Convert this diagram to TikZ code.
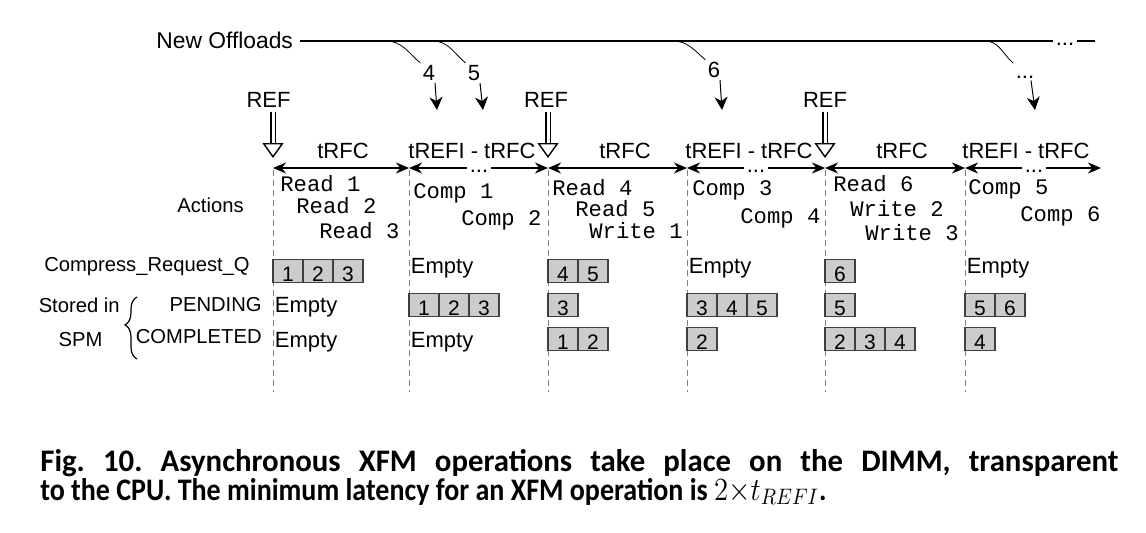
\documentclass[tikz,border=0pt]{standalone}
\usepackage{fontspec}
\setmainfont{Liberation Sans}
\setmonofont{Liberation Mono}
\newfontfamily\capfont{Carlito}
\usetikzlibrary{arrows.meta,decorations.pathreplacing}

\begin{document}
\begin{tikzpicture}[x=0.5pt, y=-0.5pt,
    lbl/.style={font=\fontsize{11}{12}\selectfont, inner sep=0pt},
    side/.style={font=\fontsize{10.1}{12}\selectfont, inner sep=0pt},
    act/.style={font=\fontsize{11.1}{12}\ttfamily, anchor=base west, inner sep=0pt},
    cell/.style={draw=black!75, fill=black!20, line width=0.6pt, minimum width=15pt, minimum height=11.75pt,
      inner sep=0pt, text height=10pt, text depth=0pt, font=\fontsize{10.5}{12}\selectfont},
    empt/.style={font=\fontsize{11}{12}\selectfont, anchor=west, inner sep=0pt},
    tl/.style={line width=1pt, {Stealth[length=6.5pt,width=5.5pt]}-{Stealth[length=6.5pt,width=5.5pt]}},
    dotsgap/.style={font=\fontsize{11}{12}\selectfont, fill=white, anchor=base, inner xsep=1.5pt, inner ysep=0.8pt,
      text height=0.35em, text depth=0pt},
    refarr/.style={line width=0.7pt, double, double distance=1.5pt, -{Triangle[open, length=7.5pt, width=10.5pt]}},
    offarr/.style={line width=0.5pt, -{Stealth[length=6.5pt, width=6.5pt, inset=2pt]}},
    guide/.style={draw=gray, line width=0.4pt, dash pattern=on 3pt off 2pt},
    capline/.style={anchor=base west, inner sep=0pt, font=\capfont\bfseries\fontsize{14}{16}\selectfont\frenchspacing},
  ]
  \useasboundingbox (0,0) rectangle (1146,532);

  % New offloads line and its branches
  \node[lbl, font=\fontsize{11.4}{12}\selectfont, anchor=west] (newoff) at (156,40) {New Offloads};
  \coordinate (lineend) at (1095,41);
  \draw[line width=0.6pt, shorten <=3.5pt] (newoff.east |- lineend) -- (lineend);
  \node[dotsgap] (linedots) at (1065,45) {...};

  \foreach \bx/\lx/\ly/\tx/\t in {386/429/73/437/4, 433/474/73/483/5, 673/714/70/722/6} {
    \coordinate (br\t) at (\bx,41);
    \node[lbl, inner sep=1pt] (off\t) at (\lx,\ly) {\t};
    \coordinate (tip\t) at (\tx,110);
    \draw[line width=0.4pt] (br\t) to[out=0, in=140] (off\t.north west);
    \draw[offarr] ([xshift=3pt]off\t.south) -- (tip\t);
  }
  \coordinate (brd) at (985,41);
  \node[lbl, inner sep=1pt, anchor=base] (offd) at (1025,78) {...};
  \coordinate (tipd) at (1035,110);
  \draw[line width=0.4pt] (brd) to[out=0, in=140] ([yshift=5pt]offd.north west);
  \draw[offarr] ([xshift=3pt]offd.south) -- (tipd);

  % Timeline
  \foreach \a/\b [count=\i] in {273/409, 409/548, 548/687, 687/825, 825/965, 965/1101} {
    \coordinate (s\i) at (\a,168);
    \coordinate (e\i) at (\b,168);
    \draw[tl] (s\i) -- (e\i);
  }
  \foreach \x in {273,409,548,687,825,965}
    \draw[guide] (\x,170) -- (\x,392);
  \foreach \x in {479,756,1034}
    \node[dotsgap] at (\x,172) {...};

  \foreach \x/\t [count=\i] in {343/tRFC, 472/tREFI - tRFC, 625/tRFC, 749/tREFI - tRFC, 902/tRFC, 1026/tREFI - tRFC}
    \node[lbl, anchor=base] (per\i) at (\x,158) {\t};

  % REF commands
  \foreach \x/\s [count=\i] in {268.5/s1, 546/s3, 825/s5} {
    \node[lbl] (ref\i) at (\x,100) {REF};
    \draw[refarr, shorten <=2pt] (ref\i.south -| \s) -- ([yshift=5pt]\s);
  }

  % Actions
  \node[side] (actions) at (210.5,205) {Actions};
  \foreach \x/\y/\t [count=\i] in {280/191/Read 1, 296/213/Read 2, 319/238/Read 3,
      413/198/Comp 1, 461/225/Comp 2,
      552/195/Read 4, 575/216/Read 5, 589/238/Write 1,
      692/195/Comp 3, 740/223/Comp 4,
      833/191/Read 6, 850/216/Write 2, 865/240/Write 3,
      968/194/Comp 5, 1020/221/Comp 6}
    \node[act] (act\i) at (\x,\y) {\t};

  % Queue and SPM contents
  \node[side] (crq) at (147,267) {Compress\_Request\_Q};
  \node[side, anchor=east] (stored) at (120,305) {Stored in};
  \node[side] (spm) at (80.5,340) {SPM};
  \node[side, anchor=east] (pend) at (262,305) {PENDING};
  \node[side, anchor=east] (compl) at (262,337) {COMPLETED};
  \draw[line width=0.6pt, decorate, decoration={brace, amplitude=6pt, aspect=0.55}] (137,359) -- (137,297);

  \foreach \x/\y/\list in {273/271/{1,2,3}, 409/305/{1,2,3},
      548/271/{4,5}, 548/305/{3}, 548/339/{1,2},
      687/305/{3,4,5}, 687/339/{2},
      825/271/{6}, 825/305/{5}, 825/339/{2,3,4},
      965/305/{5,6}, 965/339/{4}}
    \foreach \v [count=\i] in \list
      \node[cell] (q-\x-\y-\i) at (\x+30*\i-15,\y) {\v};
  \foreach \x/\y in {409/268, 687/268, 965/268, 273/307, 273/342, 409/342}
    \node[empt] (em-\x-\y) at (\x+1.5,\y) {Empty};

  % Caption
  \node[capline] (cap1) at (40,471)
    {\scalebox{1.1}[1.12]{\makebox[490pt][s]{Fig. 10. Asynchronous XFM operations take place on the DIMM, transparent}}};
  \node[capline] (cap2) at (40,500)
    {\scalebox{1}[1.12]{to the CPU. The minimum latency for an XFM operation is $2{\times}t_{REFI}$.}};
\end{tikzpicture}
\end{document}
